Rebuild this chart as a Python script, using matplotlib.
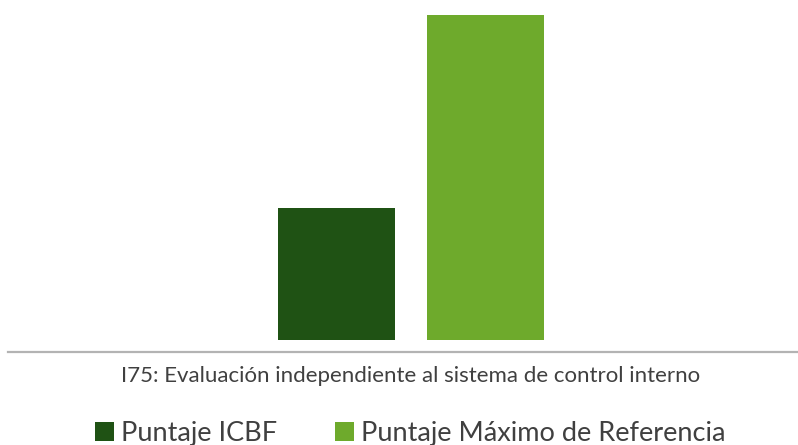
import matplotlib
matplotlib.use("Agg")
import matplotlib.pyplot as plt
from matplotlib.patches import Patch

# datos
categoria = "I75: Evaluación independiente al sistema de control interno"
series = ["Puntaje ICBF", "Puntaje Máximo de Referencia"]
valores = [40.6, 100]
colores = ["#1f5214", "#6eaa2c"]

plt.rcParams["font.family"] = ["Lato", "DejaVu Sans"]

fig = plt.figure(figsize=(7.98, 4.45), dpi=100)
# ejes: de x=8px a 798px, de y=352px (linea base) hacia arriba
ax = fig.add_axes([8 / 798, 93 / 445, 790 / 798, 352 / 445])

ancho = 0.785
pos = [0, 1]
for p, v, c in zip(pos, valores, colores):
    ax.bar(p, v, width=ancho, color=c)

px = 1 / 149.0
ax.set_xlim(0 - (336.5 - 8) * px, 1 + (798 - 485.5) * px)
py = 100 / 325.0
ax.set_ylim(-12 * py, 100 + 15 * py)

for s in ["top", "right", "left"]:
    ax.spines[s].set_visible(False)
ax.spines["bottom"].set_color("#b3b3b3")
ax.spines["bottom"].set_linewidth(1.6)
ax.set_yticks([])
ax.set_xticks([0.5])
ax.set_xticklabels([categoria], fontsize=16, color="#404040")
ax.tick_params(axis="x", length=0, pad=10)

handles = [Patch(facecolor=c, edgecolor="none") for c in colores]
fig.legend(handles, series, loc="center", bbox_to_anchor=(410 / 798, 1 - 433 / 445),
           ncol=2, frameon=False, fontsize=19.5, labelcolor="#404040",
           handlelength=0.7, handleheight=0.7, handletextpad=0.25, columnspacing=2.15)

fig.savefig("out.png", dpi=100)
